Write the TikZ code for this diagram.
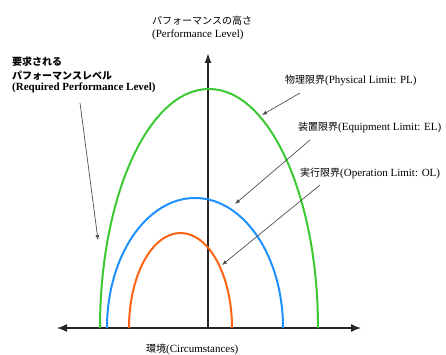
\documentclass[tikz,border=0pt]{standalone}
\usepackage{fontspec}
\setmainfont{Liberation Serif}
\newfontfamily\jp{Noto Sans CJK JP}
\usetikzlibrary{arrows.meta}
\definecolor{plgreen}{RGB}{60,200,50}
\definecolor{elblue}{RGB}{30,145,255}
\definecolor{olorange}{RGB}{255,100,20}
\definecolor{ptrgray}{RGB}{80,80,80}
\newcommand{\jpt}[1]{{\fontsize{10}{12}\selectfont\jp #1}}
\begin{document}
\begin{tikzpicture}[x=1pt,y=1pt,
  axisline/.style={line width=1.4pt,black!85,-{Latex[length=10pt,width=8pt]}},
  curve/.style={line width=2pt},
  ptr/.style={line width=0.7pt,ptrgray,-{Latex[length=5pt,width=4pt]}},
  lbl/.style={anchor=west,inner sep=0pt,font=\fontsize{11}{13}\selectfont}]
\useasboundingbox (0,0) rectangle (446,354);
% axes
\coordinate (o) at (208,26);
\coordinate (xl) at (57,26);
\coordinate (xr) at (361,26);
\coordinate (yt) at (208,301);
\draw[axisline] (o) -- (xl);
\draw[axisline] (o) -- (xr);
\draw[line width=1.4pt,black!85,-{Latex[length=10pt,width=7pt]}] (o) -- (yt);
% curves
\draw[curve,plgreen] (100,26) arc[start angle=180,end angle=0,x radius=109,y radius=239];
\draw[curve,elblue] (107,26) arc[start angle=180,end angle=0,x radius=88,y radius=130];
\draw[curve,olorange] (129,26) arc[start angle=180,end angle=0,x radius=51.5,y radius=95];
% labels
\node[lbl] (pl1) at (152,333) {\jpt{パフォーマンスの高さ}};
\node[lbl] (pl2) at (152,319) {(Performance Level)};
\node[lbl] (rq1) at (12,292) {\jpt{\bfseries 要求される}};
\node[lbl] (rq2) at (12,278) {\jpt{\bfseries パフォーマンスレベル}};
\node[lbl,font=\fontsize{11}{13}\selectfont\bfseries] (rq3) at (12,266) {(Required Performance Level)};
\node[lbl] (pl) at (285,274) {\jpt{物理限界}(Physical Limit: PL)};
\node[lbl] (el) at (298,227) {\jpt{装置限界}(Equipment Limit: EL)};
\node[lbl] (ol) at (300,181) {\jpt{実行限界}(Operation Limit: OL)};
\node[lbl] (ci) at (146,5) {\jpt{環境}(Circumstances)};
% pointer arrows
\coordinate (rqs) at (80,251); \coordinate (rqe) at (98,114);
\coordinate (pls) at (300,261); \coordinate (ple) at (262,239);
\coordinate (els) at (310,214); \coordinate (ele) at (235,150);
\coordinate (ols) at (320,169); \coordinate (ole) at (222,89);
\draw[ptr] (rqs) -- (rqe);
\draw[ptr] (pls) -- (ple);
\draw[ptr] (els) -- (ele);
\draw[ptr] (ols) -- (ole);
\end{tikzpicture}
\end{document}
